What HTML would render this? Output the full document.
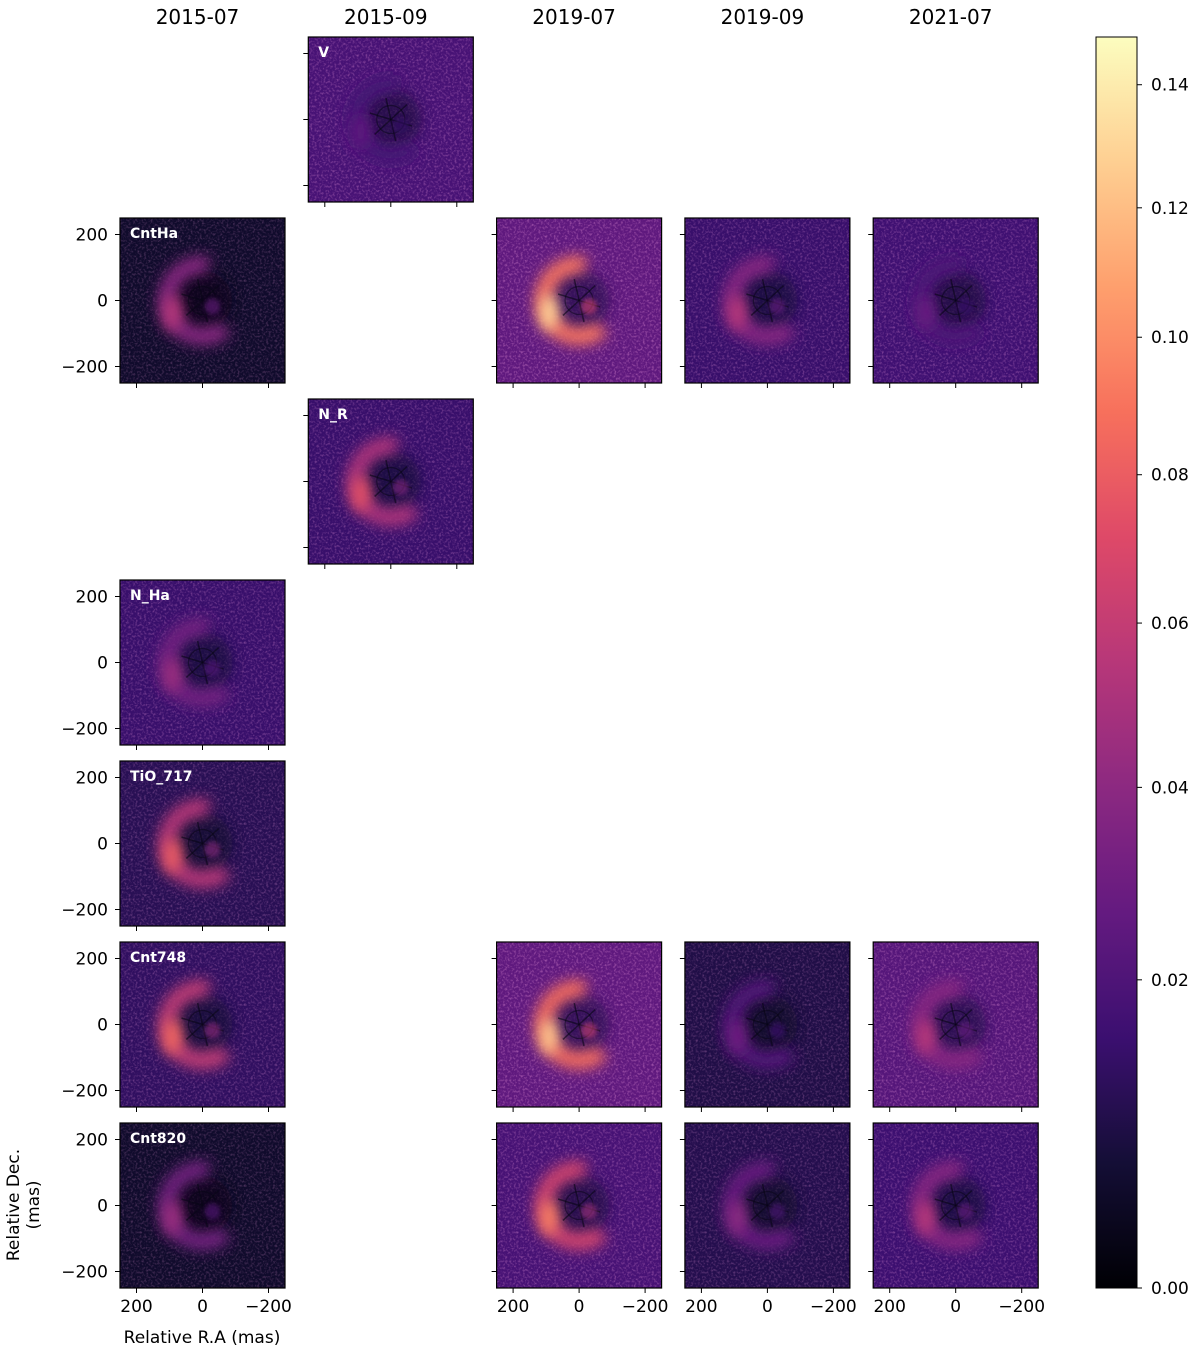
<!DOCTYPE html>
<html><head><meta charset="utf-8">
<style>
html,body{margin:0;padding:0;background:#fff;}
svg text{font-family:"DejaVu Sans","Liberation Sans",sans-serif;}
</style></head>
<body>
<svg id="fig" width="1200" height="1349" viewBox="0 0 1200 1349" xmlns="http://www.w3.org/2000/svg">
<defs>
<filter id="noise" x="0" y="0" width="100%" height="100%">
<feTurbulence type="fractalNoise" baseFrequency="0.45" numOctaves="2" seed="3" result="t"/>
<feColorMatrix type="matrix" values="0 0 0 0 0.9  0 0 0 0 0.35  0 0 0 0 0.75  0 0 0 2.2 -1.0"/>
</filter>
<filter id="blur6" x="-100%" y="-100%" width="300%" height="300%"><feGaussianBlur stdDeviation="7"/></filter>
<filter id="blur3" x="-100%" y="-100%" width="300%" height="300%"><feGaussianBlur stdDeviation="2.5"/></filter>
</defs>
</svg>
<script>
const dates = ["2015-07","2015-09","2019-07","2019-09","2021-07"];
const filters = ["V","CntHa","N_R","N_Ha","TiO_717","Cnt748","Cnt820"];
const panelRows = [0,1,1,1,1,2,3,4,5,5,5,5,6,6,6,6];
const panelCols = [1,0,2,3,4,1,0,0,0,2,3,4,0,2,3,4];
const panelBg   = [0.018,0.004,0.025,0.014,0.016,0.014,0.014,0.010,0.012,0.025,0.008,0.022,0.004,0.018,0.009,0.015];
const panelArc  = [0.025,0.055,0.130,0.055,0.028,0.075,0.045,0.080,0.085,0.125,0.030,0.055,0.045,0.095,0.040,0.055];
const cbTicks = [0.00,0.02,0.04,0.06,0.08,0.10,0.12,0.14];
const axisTicks = [200,0,-200];
const VMAX = 0.148, GAMMA = 0.7;

const svg = document.getElementById('fig');
const NS = "http://www.w3.org/2000/svg";
function mk(tag, attrs, parent){const e=document.createElementNS(NS,tag);for(const k in attrs)e.setAttribute(k,attrs[k]);(parent||svg).appendChild(e);return e;}

const magma=[[0,[0,0,4]],[0.1,[20,14,54]],[0.2,[59,15,112]],[0.3,[100,26,128]],[0.4,[140,41,129]],[0.5,[183,55,121]],[0.6,[222,73,104]],[0.7,[247,112,92]],[0.8,[254,159,109]],[0.9,[254,207,146]],[1,[252,253,191]]];
function cmap(t){t=Math.max(0,Math.min(1,t));for(let i=1;i<magma.length;i++){if(t<=magma[i][0]){const a=magma[i-1],b=magma[i];const f=(t-a[0])/(b[0]-a[0]);const c=a[1].map((v,j)=>Math.round(v+(b[1][j]-v)*f));return `rgb(${c})`;}}return 'rgb(252,253,191)';}
function norm(v){return Math.pow(Math.max(0,v)/VMAX,GAMMA);}

const X0=120, Y0=37, W=165, DX=188.3, DY=181;
const xs = v => W/2 - v*(W/500);
const ys = v => W/2 - v*(W/500);

dates.forEach((d,i)=>{
  const t=mk('text',{x:X0+i*DX+W/2-5,y:24,'text-anchor':'middle','font-size':20,fill:'#000'});
  
  
  t.textContent=d;
});

panelRows.forEach((r,i)=>{
  const c=panelCols[i];
  const px=X0+c*DX, py=Y0+r*DY;
  const g=mk('g',{transform:`translate(${px},${py})`});
  
  
  const cid='clip'+i;
  const cp=mk('clipPath',{id:cid},g); mk('rect',{x:0,y:0,width:W,height:W},cp);
  const inner=mk('g',{'clip-path':`url(#${cid})`},g);
  mk('rect',{x:0,y:0,width:W,height:W,fill:cmap(norm(panelBg[i]))},inner);
  mk('rect',{x:0,y:0,width:W,height:W,filter:'url(#noise)',opacity:0.25+panelBg[i]*8},inner);
  const cx=W/2, cy=W/2;
  mk('circle',{cx:cx,cy:cy,r:30,fill:cmap(norm(panelBg[i]*0.3)),opacity:0.6,filter:'url(#blur6)'},inner);
  const R=36, a1=80*Math.PI/180, a2=310*Math.PI/180;
  const p=`M${cx+R*Math.cos(a1)} ${cy-R*Math.sin(a1)} A${R} ${R} 0 1 0 ${cx+R*Math.cos(a2)} ${cy-R*Math.sin(a2)}`;
  const arcEl=mk('path',{d:p,fill:'none',stroke:cmap(norm(panelArc[i]*0.7)),'stroke-width':17,filter:'url(#blur6)'},inner);
  
  
  mk('ellipse',{cx:cx-30,cy:cy+12,rx:9,ry:18,fill:cmap(norm(panelArc[i])),filter:'url(#blur6)'},inner);
  for(let k=0;k<6;k++){const a=k*Math.PI/3+0.3;mk('line',{x1:cx,y1:cy,x2:cx+22*Math.cos(a),y2:cy+22*Math.sin(a),stroke:'#080616','stroke-width':1.5,opacity:0.6},inner);}
  mk('circle',{cx:cx,cy:cy,r:14,fill:'none',stroke:'#080616','stroke-width':1.2,opacity:0.5},inner);
  mk('circle',{cx:cx+10,cy:cy+6,r:8,fill:cmap(norm(panelArc[i]*0.5)),opacity:0.6,filter:'url(#blur3)'},inner);
  mk('rect',{x:0,y:0,width:W,height:W,fill:'none',stroke:'#000','stroke-width':1.2},g);
  if(c===0||r===0||r===2){
    const lab=mk('text',{x:10,y:20,'font-size':14,'font-weight':'bold',fill:'#fff'},g);
    
    
    lab.textContent=filters[r];
  }
  axisTicks.forEach(v=>{
    mk('line',{x1:-5,y1:ys(v),x2:0,y2:ys(v),stroke:'#000','stroke-width':1},g);
    if(c===0){const t=mk('text',{x:-12,y:ys(v)+6,'text-anchor':'end','font-size':17,fill:'#000'},g);
      
      
      t.textContent=v<0?'\u2212'+(-v):v;}
  });
  axisTicks.forEach(v=>{
    mk('line',{x1:xs(v),y1:W,x2:xs(v),y2:W+5,stroke:'#000','stroke-width':1},g);
    if(r===6){const t=mk('text',{x:xs(v),y:W+24,'text-anchor':'middle','font-size':17,fill:'#000'},g);
      
      
      t.textContent=v<0?'\u2212'+(-v):v;}
  });
});

const yt=mk('text',{transform:'translate(19,1205) rotate(-90)','text-anchor':'middle','font-size':17,fill:'#000'});


yt.textContent='Relative Dec.';
const yt2=mk('text',{transform:'translate(39,1205) rotate(-90)','text-anchor':'middle','font-size':17,fill:'#000'});


yt2.textContent='(mas)';
const xt=mk('text',{x:202,y:1343,'text-anchor':'middle','font-size':17,fill:'#000'});


xt.textContent='Relative R.A (mas)';

const CBX=1096, CBY=37, CBW=41, CBH=1251;
const defs=svg.querySelector('defs');
const lg=mk('linearGradient',{id:'cbgrad',x1:0,y1:1,x2:0,y2:0},defs);
for(let s=0;s<=20;s++){mk('stop',{offset:s/20,'stop-color':cmap(s/20)},lg);}
const cb=mk('rect',{x:CBX,y:CBY,width:CBW,height:CBH,fill:'url(#cbgrad)',stroke:'#000','stroke-width':1});


cbTicks.forEach(v=>{
  const y=CBY+CBH-norm(v)*CBH;
  mk('line',{x1:CBX+CBW,y1:y,x2:CBX+CBW+5,y2:y,stroke:'#000','stroke-width':1});
  const t=mk('text',{x:CBX+CBW+14,y:y+6,'font-size':17,fill:'#000'});
  
  
  t.textContent=v.toFixed(2);
});
</script>
</body></html>
